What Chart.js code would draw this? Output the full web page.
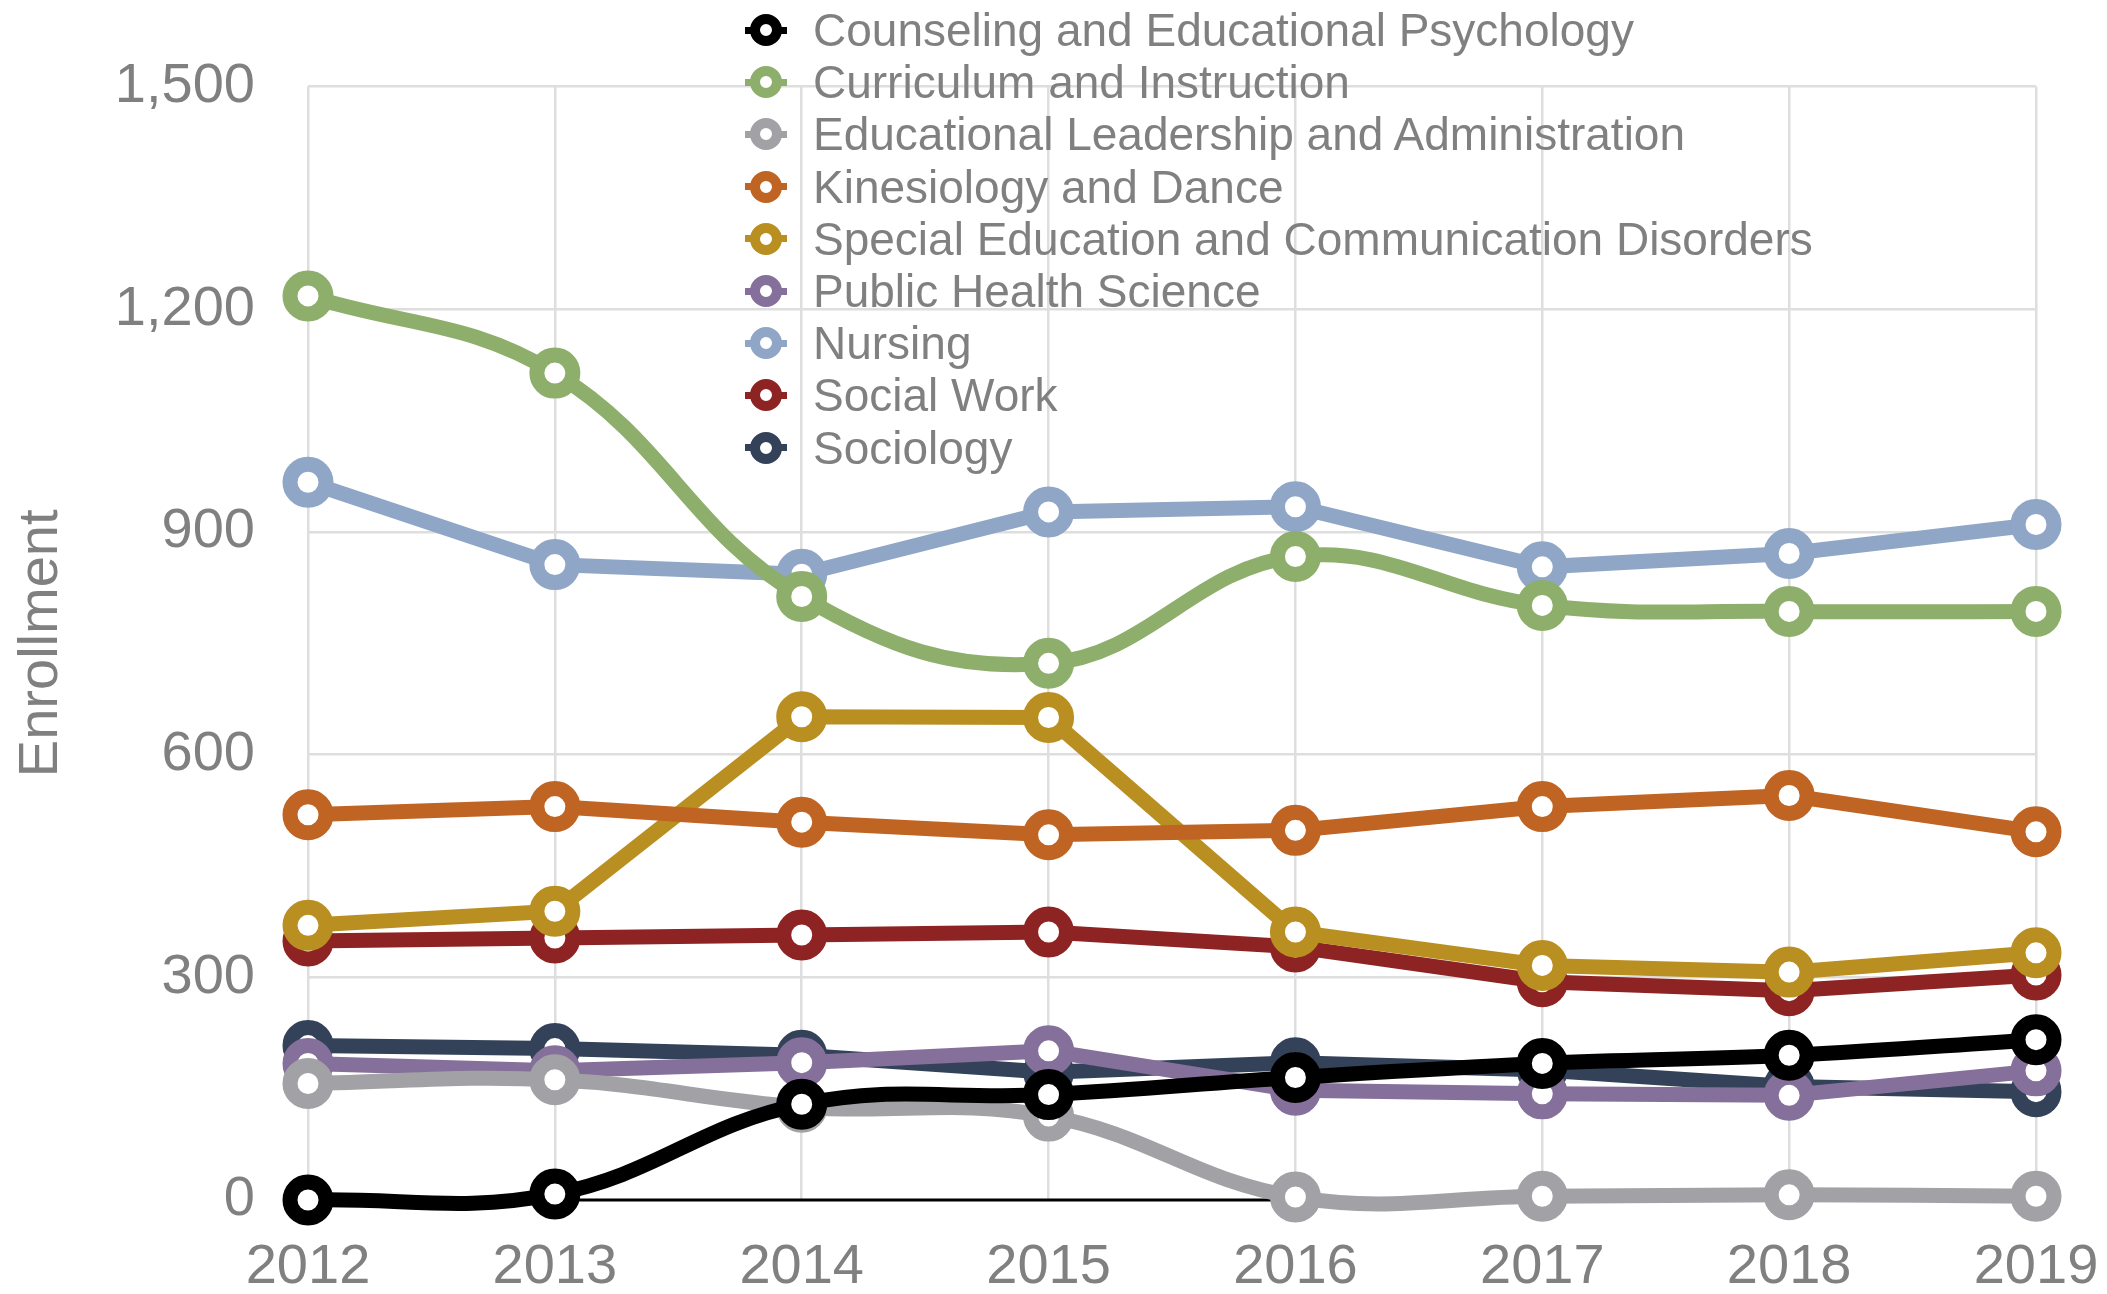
<!DOCTYPE html>
<html>
<head>
<meta charset="utf-8">
<title>Enrollment by Department</title>
<script src="https://cdn.jsdelivr.net/npm/chart.js@4.4.0/dist/chart.umd.min.js"></script>
<style>
  html, body { margin: 0; padding: 0; background: #fff; }
  #wrap { position: relative; width: 2107px; height: 1294px; }
  #legend {
    position: absolute; left: 745px; top: 4px; margin: 0; padding: 0; list-style: none;
    font-family: "Helvetica Neue", Helvetica, Arial, "Liberation Sans", sans-serif;
    font-size: 46px; color: #808080;
  }
  #legend li { display: flex; align-items: center; height: 52.2px; white-space: nowrap; }
  .swatch { position: relative; flex: none; width: 42px; height: 32px; margin-right: 26px; }
  .swatch::before {
    content: ""; position: absolute; left: 0; right: 0; top: 12.5px; height: 7px; background: var(--c);
  }
  .swatch::after {
    content: ""; position: absolute; left: 5px; top: 0; width: 32px; height: 32px; box-sizing: border-box;
    border-radius: 50%; border: 10px solid var(--c); background: #fff;
  }
</style>
</head>
<body>
<div id="wrap">
  <canvas id="enrollChart" width="2107" height="1294"></canvas>
  <ul id="legend"></ul>
</div>
<script>
// Enrollment per department, 2012-2019
const years = ["2012", "2013", "2014", "2015", "2016", "2017", "2018", "2019"];

const counseling = [0, 8, 129, 142, 165, 184, 195, 216];
const curriculum = [1218, 1114, 813, 723, 867, 801, 793, 793];
const edLeadership = [157, 162, 125, 113, 4, 5, 7, 5];
const kinesiology = [519, 530, 509, 492, 498, 530, 545, 496];
const specialEd = [370, 389, 651, 650, 361, 316, 307, 333];
const publicHealth = [184, 174, 185, 201, 148, 143, 141, 174];
const nursing = [967, 856, 843, 927, 934, 853, 871, 910];
const socialWork = [349, 353, 357, 361, 341, 294, 282, 303];
const sociology = [208, 204, 195, 172, 185, 175, 153, 146];

// thin zero line that runs under the markers from 2013 to 2016
const baseline = [null, 0, 0, 0, 0, null, null, null];

const yTicks = [0, 300, 600, 900, 1200, 1500];

const series = [
  { label: "Counseling and Educational Psychology", data: counseling, color: "#000000", curved: true },
  { label: "Curriculum and Instruction", data: curriculum, color: "#8daf6b", curved: true },
  { label: "Educational Leadership and Administration", data: edLeadership, color: "#a2a2a6", curved: true },
  { label: "Kinesiology and Dance", data: kinesiology, color: "#c06423", curved: false },
  { label: "Special Education and Communication Disorders", data: specialEd, color: "#b98f21", curved: false },
  { label: "Public Health Science", data: publicHealth, color: "#84709a", curved: false },
  { label: "Nursing", data: nursing, color: "#8fa6c6", curved: false },
  { label: "Social Work", data: socialWork, color: "#8e2323", curved: false },
  { label: "Sociology", data: sociology, color: "#334259", curved: false },
];

const FONT = '"Helvetica Neue", Helvetica, Arial, "Liberation Sans", sans-serif';
const GREY_TEXT = "#808080";
const GRID = "#dedede";

Chart.defaults.font.family = FONT;

const datasets = series.map((s) => ({
  label: s.label,
  data: s.data,
  borderColor: s.color,
  backgroundColor: "#ffffff",
  borderWidth: 15,
  tension: s.curved ? 0.4 : 0,
  pointRadius: 18,
  pointHoverRadius: 18,
  pointBorderWidth: 15,
  pointBackgroundColor: "#ffffff",
  pointBorderColor: s.color,
  clip: false,
  order: 0,
}));

datasets.push({
  label: "zero",
  data: baseline,
  borderColor: "#000000",
  borderWidth: 3,
  pointRadius: 0,
  tension: 0,
  clip: false,
  order: 1,
});

new Chart(document.getElementById("enrollChart"), {
  type: "line",
  data: { labels: years, datasets: datasets },
  options: {
    responsive: false,
    animation: false,
    events: [],
    layout: { padding: { top: 82, right: 71, left: 0, bottom: 0 } },
    elements: { line: { capBezierPoints: false } },
    plugins: {
      legend: { display: false },
      tooltip: { enabled: false },
    },
    scales: {
      x: {
        offset: false,
        border: { display: false },
        grid: { color: GRID, lineWidth: 2.5, drawTicks: false },
        ticks: {
          color: GREY_TEXT,
          font: { size: 56 },
          padding: 34,
          maxRotation: 0,
          autoSkip: false,
        },
        afterFit: (scale) => {
          scale.height = 94;
          // edge labels may hang past the plot; don't let them shrink it
          scale.paddingLeft = 0;
          scale.paddingRight = 0;
        },
      },
      y: {
        min: 0,
        max: 1500,
        border: { display: false },
        afterBuildTicks: (scale) => {
          scale.ticks = yTicks.map((v) => ({ value: v }));
        },
        grid: {
          drawTicks: false,
          lineWidth: 2.5,
          color: (ctx) => (ctx.tick && ctx.tick.value === 0 ? "rgba(0,0,0,0)" : GRID),
        },
        ticks: {
          color: GREY_TEXT,
          font: { size: 56 },
          padding: 53,
          callback: (value) => value.toLocaleString("en-US"),
        },
        title: {
          display: true,
          text: "Enrollment",
          color: GREY_TEXT,
          font: { size: 56 },
          padding: { top: 8, bottom: 0 },
        },
        afterFit: (scale) => {
          scale.width = 308;
        },
      },
    },
  },
});

// legend list built from the same series
const legend = document.getElementById("legend");
series.forEach((s) => {
  const li = document.createElement("li");
  const sw = document.createElement("span");
  sw.className = "swatch";
  sw.style.setProperty("--c", s.color);
  li.appendChild(sw);
  li.appendChild(document.createTextNode(s.label));
  legend.appendChild(li);
});
</script>
</body>
</html>
